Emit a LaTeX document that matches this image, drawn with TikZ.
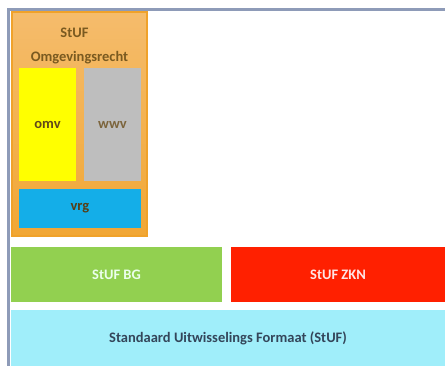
\documentclass[tikz,border=0pt]{standalone}
\usepackage{fontspec}
\setmainfont{Carlito}
\usetikzlibrary{positioning}

\definecolor{framegray}{HTML}{8E9BB8}
\definecolor{orangedark}{HTML}{F0A22A}
\definecolor{orangelight}{HTML}{F5BC6C}
\definecolor{omvyellow}{HTML}{FFFF00}
\definecolor{wwvgray}{HTML}{BEBEBE}
\definecolor{vrgblue}{HTML}{14AEE8}
\definecolor{bggreen}{HTML}{92D050}
\definecolor{zknred}{HTML}{FF2000}
\definecolor{stufcyan}{HTML}{A0EEFA}
\definecolor{browntext}{HTML}{7A5A20}
\definecolor{slatetext}{HTML}{34465A}

\begin{document}
\begin{tikzpicture}[
    x=1pt, y=-1pt,
    block/.style={rectangle, draw=none, inner sep=0pt, text centered, font=\bfseries\fontsize{14.5}{17}\selectfont},
    frame/.style={draw=framegray, line width=3pt},
    label/.style={inner sep=0pt, font=\bfseries\fontsize{14.5}{17}\selectfont, text=browntext}
]
\useasboundingbox (0,0) rectangle (445,365);

% outer frame of the slide
\draw[frame] (8.5,366) |- (446,9.5);

% StUF Omgevingsrecht
\node[block, minimum width=135pt, minimum height=224pt, top color=orangelight, bottom color=orangedark!95, draw=orangedark, line width=2pt] (omgev) at (79.5,124) {};
\node[label] (omgtitle) at (74.5,33) {StUF};
\node[label] (omgname) at (79.5,58) {Omgevingsrecht};
\node[block, fill=omvyellow, minimum width=57pt, minimum height=113pt, text=browntext!80!black] (omv) at (47.5,124.5) {omv};
\node[block, fill=wwvgray, minimum width=57pt, minimum height=113pt, text=browntext!70!gray] (wwv) at (112.5,124.5) {wwv};
\node[block, fill=vrgblue, minimum width=122pt, minimum height=39pt, text=browntext!70!black] (vrg) at (80,208.5) {vrg};

% StUF sectormodellen
\node[block, fill=bggreen, minimum width=211pt, minimum height=55pt, text=white!92!green] (bg) at (116.5,274.5) {StUF BG};
\node[block, fill=zknred, minimum width=214pt, minimum height=55pt, text=white!90!red] (zkn) at (338,274.5) {StUF ZKN};

% basis
\node[block, fill=stufcyan, minimum width=434pt, minimum height=56pt, text=slatetext] (stuf) at (228,338) {Standaard Uitwisselings Formaat (StUF)};
\end{tikzpicture}
\end{document}
